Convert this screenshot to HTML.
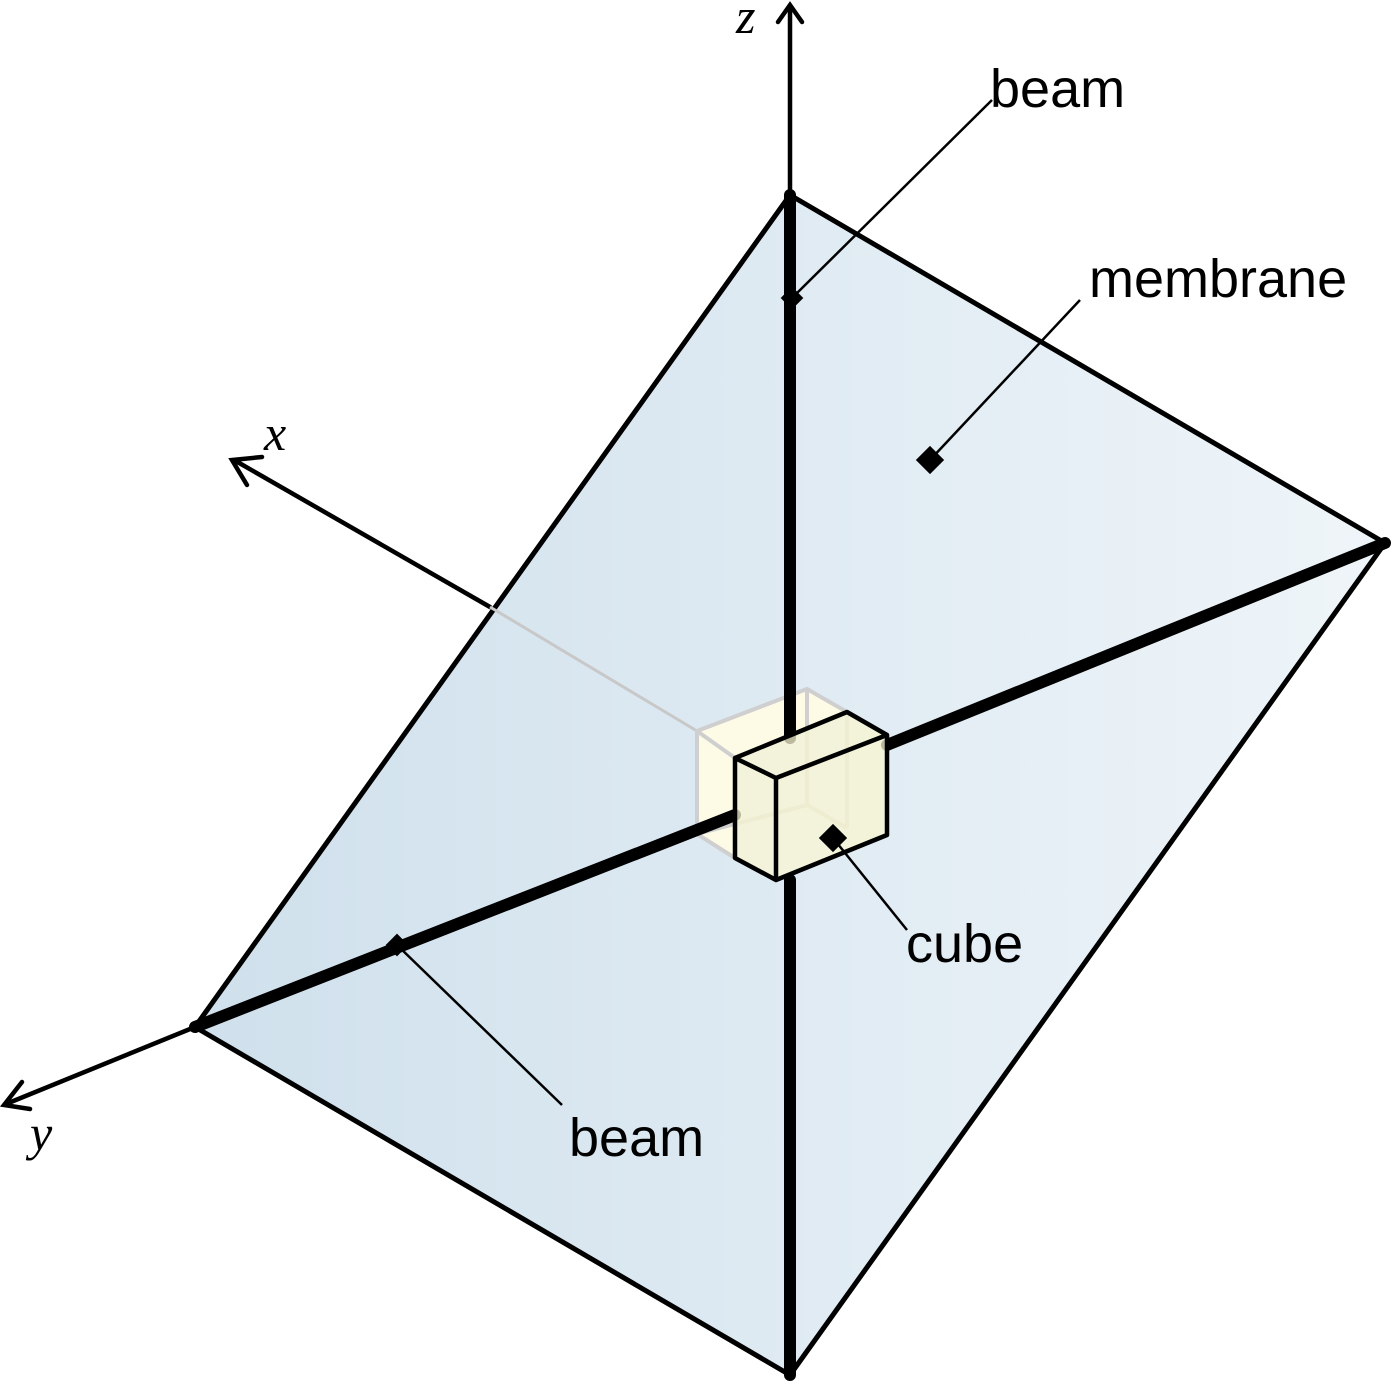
<!DOCTYPE html>
<html><head><meta charset="utf-8"><style>
html,body{margin:0;padding:0;background:#fff;}
svg{display:block}
text{font-family:"Liberation Sans",sans-serif;}
.it{font-family:"Liberation Serif",serif;font-style:italic;}
</style></head><body>
<svg width="1395" height="1385" viewBox="0 0 1395 1385" xmlns="http://www.w3.org/2000/svg">
<defs>
<linearGradient id="g" x1="195" y1="0" x2="1385" y2="0" gradientUnits="userSpaceOnUse">
<stop offset="0" stop-color="#cfe0ec"/><stop offset="1" stop-color="#eff5f9"/>
</linearGradient>
</defs>
<g stroke="#000" stroke-width="4.5" fill="none" stroke-linecap="round">
<line x1="790" y1="195" x2="790" y2="8"/>
<polyline points="778,22 790,5 802,22"/>
<line x1="490" y1="607" x2="234" y2="460"/>
<polyline points="262,457 232,460 247,485"/>
<line x1="195" y1="1027" x2="6" y2="1104"/>
<polyline points="22,1082 4,1105 30,1109"/>
</g>
<polygon points="790,195 1385,543 790,1375 195,1027" fill="url(#g)" stroke="#000" stroke-width="5" stroke-linejoin="round"/>
<line x1="490" y1="607" x2="697" y2="731" stroke="#c8c8c8" stroke-width="3"/>
<polygon points="697,731 807,689 847,712 735,758 735,858 697,834" fill="#fdfbe6" stroke="none"/>
<g stroke="#cfcfcf" stroke-width="4" fill="none">
<polyline points="697,834 697,731 807,689 847,712"/>
<line x1="697" y1="731" x2="735" y2="758"/>
<line x1="807" y1="689" x2="807" y2="805"/>
<line x1="697" y1="834" x2="807" y2="805"/>
<line x1="807" y1="805" x2="847" y2="828"/>
<line x1="697" y1="834" x2="735" y2="858"/>
<line x1="847" y1="712" x2="847" y2="828"/>
</g>
<g stroke="#000" stroke-width="12" stroke-linecap="round">
<line x1="790" y1="195" x2="790" y2="738"/>
<line x1="790" y1="880" x2="790" y2="1375"/>
<line x1="195" y1="1027" x2="735" y2="815"/>
<line x1="887" y1="745" x2="1385" y2="543"/>
</g>
<polygon points="735,758 847,712 887,735 887,835 776,880 735,858" fill="#f8f5d2" fill-opacity="0.75" stroke="none"/>
<g stroke="#000" stroke-width="4.5" fill="none" stroke-linejoin="round">
<polygon points="735,758 847,712 887,735 887,835 776,880 735,858"/>
<polyline points="735,758 776,778 887,735"/>
<line x1="776" y1="778" x2="776" y2="880"/>
</g>
<g stroke="#000" stroke-width="2.5">
<line x1="792" y1="298" x2="992" y2="100"/>
<line x1="930" y1="460" x2="1080" y2="300"/>
<line x1="833" y1="838" x2="907" y2="930"/>
<line x1="397" y1="945" x2="562" y2="1105"/>
</g>
<g fill="#000">
<rect x="-10" y="-10" width="20" height="20" transform="translate(930,460) rotate(45)"/>
<rect x="-8" y="-8" width="16" height="16" transform="translate(792,298) rotate(45)"/>
<rect x="-10" y="-10" width="20" height="20" transform="translate(833,838) rotate(45)"/>
<rect x="-8" y="-8" width="16" height="16" transform="translate(397,945) rotate(45)"/>
</g>
<g font-size="54" fill="#000">
<text x="990" y="107">beam</text>
<text x="1089" y="297">membrane</text>
<text x="906" y="962">cube</text>
<text x="569" y="1156">beam</text>
</g>
<g font-size="50" fill="#000">
<text x="736" y="33" class="it">z</text>
<text x="264" y="450" class="it">x</text>
<text x="30" y="1150" class="it">y</text>
</g>
</svg>
</body></html>
